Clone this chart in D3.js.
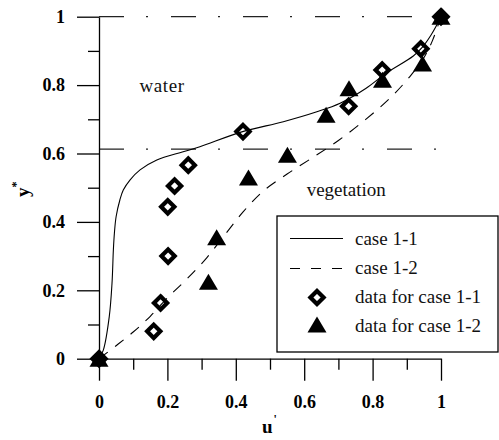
<!DOCTYPE html>
<html>
<head>
<meta charset="utf-8">
<script src="https://cdn.jsdelivr.net/npm/d3@7"></script>
<style>
  html, body { margin: 0; padding: 0; background: #fff; }
  svg { display: block; }
</style>
</head>
<body>
<svg id="chart" width="499" height="440"></svg>
<script>
// ---------- data ----------
const majorTicks = [0, 0.2, 0.4, 0.6, 0.8, 1];
const tickLabels = ["0", "0.2", "0.4", "0.6", "0.8", "1"];
const minorTicks = [0.1, 0.3, 0.5, 0.7, 0.9];

// model curve, case 1-1 (solid)
const case11U = [0, 0.0126, 0.030, 0.038, 0.042, 0.045, 0.050, 0.061, 0.071, 0.091, 0.120, 0.169, 0.246, 0.295, 0.420, 0.539, 0.637, 0.705, 0.780, 0.840, 0.919, 0.945, 0.970, 0.990, 1];
const case11Y = [0, 0.025, 0.123, 0.220, 0.318, 0.367, 0.415, 0.464, 0.493, 0.523, 0.552, 0.581, 0.605, 0.620, 0.664, 0.693, 0.722, 0.747, 0.790, 0.835, 0.885, 0.910, 0.945, 0.980, 1];

// model curve, case 1-2 (dashed)
const case12U = [0, 0.05, 0.10, 0.15, 0.20, 0.256, 0.315, 0.37, 0.422, 0.48, 0.55, 0.62, 0.70, 0.78, 0.851, 0.909, 0.95, 0.975, 1];
const case12Y = [0, 0.038, 0.078, 0.124, 0.178, 0.232, 0.295, 0.365, 0.430, 0.490, 0.540, 0.585, 0.638, 0.700, 0.762, 0.825, 0.880, 0.930, 1];

// measured data, case 1-1 (open diamonds)
const data11U = [0, 0.160, 0.180, 0.202, 0.201, 0.221, 0.261, 0.421, 0.730, 0.828, 0.941, 1];
const data11Y = [0, 0.080, 0.163, 0.300, 0.444, 0.505, 0.566, 0.664, 0.738, 0.844, 0.906, 1];

// measured data, case 1-2 (filled triangles)
const data12U = [0, 0.320, 0.344, 0.437, 0.551, 0.664, 0.731, 0.829, 0.946, 1];
const data12Y = [0, 0.225, 0.355, 0.530, 0.596, 0.713, 0.791, 0.816, 0.863, 1];

// interface lines (water surface, vegetation top)
const interfaceY = [1, 0.613];

const regionLabels = ["water", "vegetation"];
const legendLabels = ["case 1-1", "case 1-2", "data for case 1-1", "data for case 1-2"];

// ---------- drawing ----------
const svg = d3.select("#chart");
const x = d3.scaleLinear().domain([0, 1]).range([99, 441]);
const y = d3.scaleLinear().domain([0, 1]).range([358.7, 16.7]);

const serif = "'Liberation Serif', 'Times New Roman', serif";

// interface dash-dot lines
svg.append("g").selectAll("line").data(interfaceY).join("line")
  .attr("x1", x(0)).attr("x2", x(1))
  .attr("y1", d => y(d)).attr("y2", d => y(d))
  .attr("stroke", "#222").attr("stroke-width", 1.3)
  .attr("stroke-dasharray", "25,22,2,23");

// axes
function styleAxis(g) {
  g.selectAll("path.domain").attr("stroke", "#000").attr("stroke-width", 1.3);
  g.selectAll(".tick line").attr("stroke", "#000").attr("stroke-width", 1.3);
  g.selectAll(".tick text")
    .attr("fill", "#000")
    .attr("font-family", serif)
    .attr("font-weight", "bold")
    .attr("font-size", "18px");
}

svg.append("g").attr("transform", `translate(0,${y(0)})`)
  .call(d3.axisBottom(x).tickValues(minorTicks).tickSize(11).tickSizeOuter(0).tickFormat(""))
  .call(g => g.select("path.domain").remove())
  .call(styleAxis);
svg.append("g").attr("transform", `translate(${x(0)},0)`)
  .call(d3.axisLeft(y).tickValues(minorTicks).tickSize(11).tickSizeOuter(0).tickFormat(""))
  .call(g => g.select("path.domain").remove())
  .call(styleAxis);

svg.append("g").attr("transform", `translate(0,${y(0)})`)
  .call(d3.axisBottom(x).tickValues(majorTicks).tickFormat((d, i) => tickLabels[i])
    .tickSize(22).tickSizeOuter(0).tickPadding(14.5))
  .call(styleAxis);
svg.append("g").attr("transform", `translate(${x(0)},0)`)
  .call(d3.axisLeft(y).tickValues(majorTicks).tickFormat((d, i) => tickLabels[i])
    .tickSize(22).tickSizeOuter(0).tickPadding(12))
  .call(styleAxis);

// model curves
const line = d3.line().x(d => x(d[0])).y(d => y(d[1])).curve(d3.curveCatmullRom.alpha(0.5));
const c11 = case11U.map((u, i) => [u, case11Y[i]]);
const c12 = case12U.map((u, i) => [u, case12Y[i]]);

svg.append("path").datum(c11).attr("d", line)
  .attr("fill", "none").attr("stroke", "#000").attr("stroke-width", 1.1);
svg.append("path").datum(c12).attr("d", line)
  .attr("fill", "none").attr("stroke", "#000").attr("stroke-width", 1.1)
  .attr("stroke-dasharray", "11,9");

// markers
const triPath = "M0,-8L9.5,8L-9.5,8Z";
const diaPath = "M0,-6.6L6.6,0L0,6.6L-6.6,0Z";

const d12 = data12U.map((u, i) => [u, data12Y[i]]);
const d11 = data11U.map((u, i) => [u, data11Y[i]]);

svg.append("g").selectAll("path").data(d12).join("path")
  .attr("d", triPath)
  .attr("transform", d => `translate(${x(d[0])},${y(d[1])})`)
  .attr("fill", "#000");

svg.append("g").selectAll("path").data(d11).join("path")
  .attr("d", diaPath)
  .attr("transform", d => `translate(${x(d[0])},${y(d[1])})`)
  .attr("fill", "none").attr("stroke", "#000").attr("stroke-width", 4.2)
  .attr("stroke-linejoin", "miter");

// region labels
svg.append("text").text(regionLabels[0])
  .attr("x", 139.5).attr("y", 91.7)
  .attr("font-family", serif).attr("font-size", "19px").attr("fill", "#111")
  .attr("letter-spacing", "0.6px");
svg.append("text").text(regionLabels[1])
  .attr("x", 306.7).attr("y", 196)
  .attr("font-family", serif).attr("font-size", "19px").attr("fill", "#111");

// axis titles
const yt = svg.append("text")
  .attr("transform", "translate(29,197) rotate(-90)")
  .attr("font-family", serif).attr("font-weight", "bold").attr("font-size", "19px")
  .attr("fill", "#000");
yt.append("tspan").text("y");
yt.append("tspan").text("*").attr("font-size", "12px").attr("dy", "-9");

const xt = svg.append("text")
  .attr("x", 262).attr("y", 433)
  .attr("font-family", serif).attr("font-weight", "bold").attr("font-size", "19px")
  .attr("fill", "#000");
xt.append("tspan").text("u");
xt.append("tspan").text("'").attr("font-size", "12px").attr("dy", "-10").attr("dx", "1");

// legend
const lg = svg.append("g");
lg.append("rect").attr("x", 277).attr("y", 216).attr("width", 221).attr("height", 136)
  .attr("fill", "#fff").attr("stroke", "#000").attr("stroke-width", 1.3);

const rowBase = [245, 274, 303, 332];
lg.append("line").attr("x1", 290).attr("x2", 343).attr("y1", 238.5).attr("y2", 238.5)
  .attr("stroke", "#000").attr("stroke-width", 1.1);
lg.append("line").attr("x1", 290).attr("x2", 343).attr("y1", 268.5).attr("y2", 268.5)
  .attr("stroke", "#000").attr("stroke-width", 1.1).attr("stroke-dasharray", "10,11");
lg.append("path").attr("d", diaPath).attr("transform", "translate(317,297.5)")
  .attr("fill", "none").attr("stroke", "#000").attr("stroke-width", 4.2);
lg.append("path").attr("d", triPath).attr("transform", "translate(317,324.5)")
  .attr("fill", "#000");

lg.selectAll("text.lab").data(legendLabels).join("text")
  .attr("class", "lab")
  .attr("x", 355).attr("y", (d, i) => rowBase[i])
  .attr("font-family", serif).attr("font-size", "19px").attr("fill", "#111")
  .text(d => d);
</script>
</body>
</html>
